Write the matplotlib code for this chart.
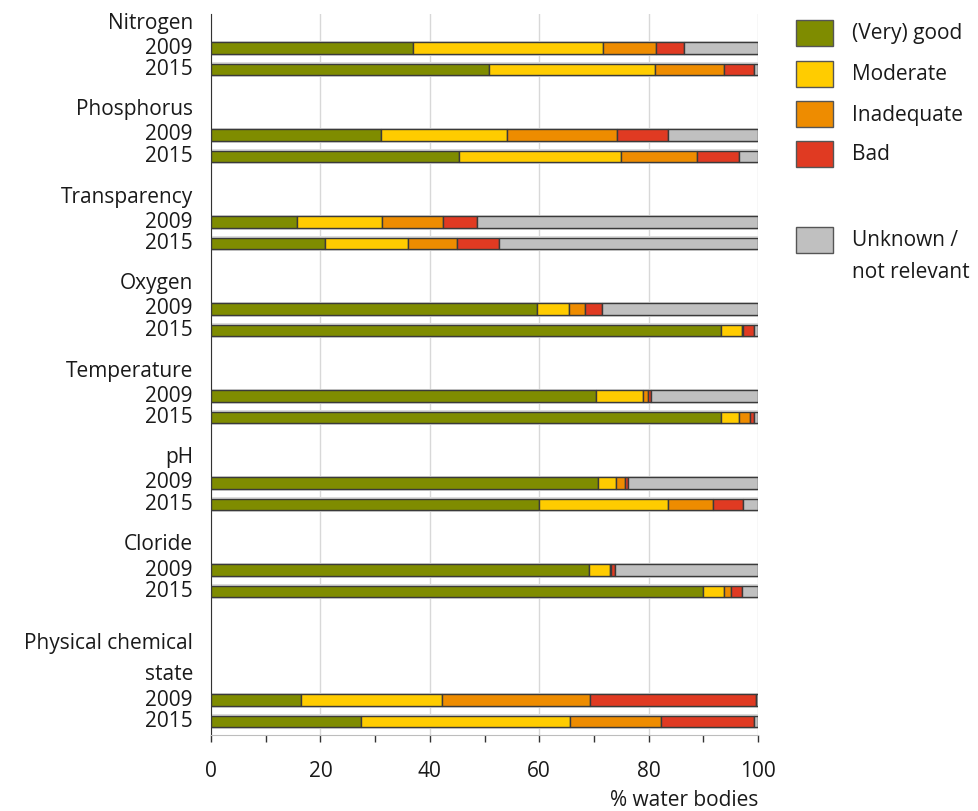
import matplotlib.pyplot as plt
from matplotlib.patches import Rectangle

plt.rcParams["font.family"] = ["Open Sans", "DejaVu Sans"]

# Data: % water bodies per class, 2009 and 2015
groups = ["Nitrogen", "Phosphorus", "Transparency", "Oxygen", "Temperature",
          "pH", "Cloride", "Physical chemical\nstate"]
years = ["2009", "2015"]
classes = ["(Very) good", "Moderate", "Inadequate", "Bad", "Unknown /\nnot relevant"]
colors = ["#7f8c00", "#ffcc00", "#ee8c00", "#e03a22", "#c0c0c0"]

good_2009 = [36.9, 31.0, 15.7, 59.6, 70.4, 70.8, 69.1, 16.4]
moderate_2009 = [34.8, 23.2, 15.5, 5.8, 8.6, 3.3, 3.8, 25.9]
inadequate_2009 = [9.7, 20.0, 11.2, 3.0, 0.8, 1.5, 0.2, 27.0]
bad_2009 = [5.1, 9.4, 6.3, 3.0, 0.6, 0.7, 0.7, 30.4]
unknown_2009 = [13.5, 16.4, 51.3, 28.6, 19.6, 23.7, 26.2, 0.3]

good_2015 = [50.9, 45.3, 20.9, 93.2, 93.2, 60.0, 90.0, 27.5]
moderate_2015 = [30.3, 29.7, 15.2, 3.8, 3.3, 23.6, 3.8, 38.1]
inadequate_2015 = [12.5, 13.9, 8.8, 0.2, 2.0, 8.2, 1.2, 16.6]
bad_2015 = [5.6, 7.7, 7.8, 2.0, 0.7, 5.5, 2.1, 17.0]
unknown_2015 = [0.7, 3.4, 47.3, 0.8, 0.8, 2.7, 2.9, 0.8]

series = {
    "2009": [good_2009, moderate_2009, inadequate_2009, bad_2009, unknown_2009],
    "2015": [good_2015, moderate_2015, inadequate_2015, bad_2015, unknown_2015],
}

W, H = 979, 811
fig = plt.figure(figsize=(W / 100, H / 100), dpi=100, facecolor="white")
ax = fig.add_axes([211 / W, 1 - 735 / H, (758 - 211) / W, (735 - 14) / H])

# vertical layout in pixel-like units
y_top, y_bot = 14, 735
bar_h = 11.5
label_x = -3.3
font_size = 15

ax.set_ylim(y_bot, y_top)
ax.set_xlim(0, 100)

extra = 0
for i, group in enumerate(groups):
    lines = group.split("\n")
    extra += (len(lines) - 1) * 43
    y09 = 48 + 87 * i + extra
    ypos = {"2009": y09, "2015": y09 + 21.5}

    for j, line in enumerate(reversed(lines)):
        ax.text(label_x, y09 - 25 - j * 32, line, ha="right", va="center",
                fontsize=font_size, color="#1a1a1a", clip_on=False)

    for yr in years:
        y = ypos[yr]
        ax.text(label_x, y, yr, ha="right", va="center", fontsize=font_size,
                color="#1a1a1a", clip_on=False)
        # light frame behind each bar
        ax.barh(y, 100, height=bar_h + 3.5, color="#dcdcdc", edgecolor="none", zorder=2)
        left = 0
        for k, vals in enumerate(series[yr]):
            v = vals[i]
            ax.barh(y, v, left=left, height=bar_h, color=colors[k],
                    edgecolor="#3a3a3a", linewidth=1.0, zorder=3)
            left += v

ax.set_yticks([])
ax.set_xticks([0, 20, 40, 60, 80, 100])
ax.set_xticks([10, 30, 50, 70, 90], minor=True)
ax.tick_params(axis="x", which="both", direction="out", length=5, width=1,
               color="#333333", labelsize=font_size, labelcolor="#1a1a1a", pad=14)
ax.grid(axis="x", color="#d8d8d8", linewidth=1.0, zorder=0)
ax.set_axisbelow(True)

for side in ["top", "right"]:
    ax.spines[side].set_visible(False)
ax.spines["left"].set_color("#333333")
ax.spines["bottom"].set_color("#bdbdbd")

fig.text(758 / W, 1 - 800 / H, "% water bodies", ha="right", va="center",
         fontsize=font_size, color="#1a1a1a")

# legend
legend_y = [33, 74, 114, 154, 240]
for name, col, ly in zip(classes, colors, legend_y):
    fig.patches.append(Rectangle((796 / W, 1 - (ly + 13) / H), 37 / W, 26 / H,
                                 transform=fig.transFigure, facecolor=col,
                                 edgecolor="#555555", linewidth=1.0))
    for j, line in enumerate(name.split("\n")):
        fig.text(852 / W, 1 - (ly + 1 + 32 * j) / H, line, ha="left", va="center",
                 fontsize=font_size, color="#1a1a1a")

fig.savefig("out.png", dpi=100, facecolor="white")
